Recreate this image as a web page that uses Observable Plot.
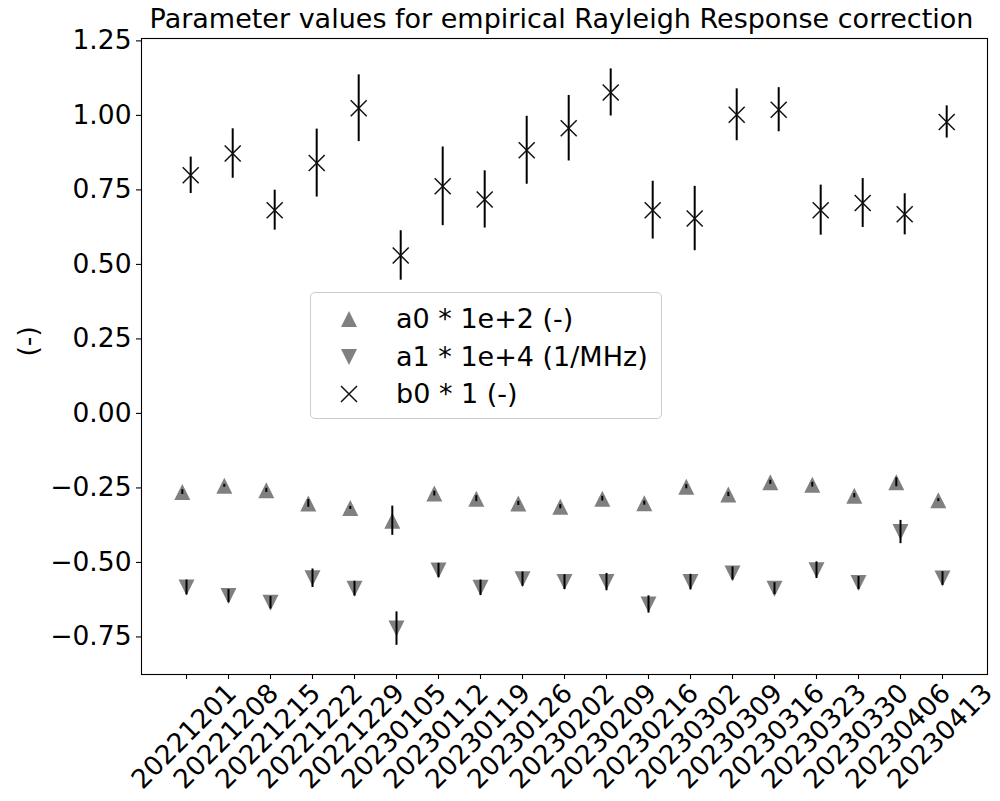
<!DOCTYPE html>
<html>
<head>
<meta charset="utf-8">
<script src="https://cdn.jsdelivr.net/npm/d3@7"></script>
<script src="https://cdn.jsdelivr.net/npm/@observablehq/plot@0.6"></script>
<style>
  html, body { margin: 0; padding: 0; background: white; }
  #chart { position: relative; width: 1000px; height: 801px; font-family: "DejaVu Sans", sans-serif; }
  #legend {
    position: absolute; left: 310px; top: 292px; width: 352px; height: 127px;
    border: 1px solid #cccccc; border-radius: 5px; background: rgba(255,255,255,0.8);
    box-sizing: border-box;
  }
  .row { position: absolute; left: 0; height: 30px; }
  .row svg { position: absolute; left: 28px; top: 5px; }
  .row span { position: absolute; left: 85px; white-space: nowrap; font-size: 27px; color: #000; line-height: 30px; top: 0; }
</style>
</head>
<body>
<div id="chart"></div>
<script>
// Weekly fit dates
const dates = ["20221201","20221208","20221215","20221222","20221229","20230105","20230112",
  "20230119","20230126","20230202","20230209","20230216","20230302","20230309","20230316",
  "20230323","20230330","20230406","20230413"];

// a0 scaled by 1e+2 (-)
const a0 = [-0.264,-0.243,-0.258,-0.302,-0.317,-0.360,-0.269,-0.286,-0.302,-0.313,
  -0.286,-0.301,-0.246,-0.272,-0.231,-0.239,-0.276,-0.231,-0.291];
const a0Err = [0.008,0.005,0.007,0.013,0.005,0.049,0.008,0.010,0.007,0.007,
  0.008,0.007,0.007,0.007,0.007,0.008,0.007,0.015,0.005];

// a1 scaled by 1e+4 (1/MHz)
const a1 = [-0.584,-0.613,-0.635,-0.553,-0.588,-0.722,-0.527,-0.585,-0.556,-0.566,
  -0.566,-0.641,-0.566,-0.537,-0.588,-0.526,-0.569,-0.398,-0.554];
const a1Err = [0.025,0.022,0.021,0.031,0.025,0.056,0.024,0.026,0.024,0.025,
  0.029,0.029,0.026,0.022,0.020,0.028,0.022,0.039,0.023];

// b0 scaled by 1 (-)
const b0 = [0.799,0.872,0.682,0.840,1.024,0.530,0.762,0.718,0.883,0.957,
  1.077,0.682,0.654,1.002,1.019,0.682,0.706,0.668,0.978];
const b0Err = [0.061,0.083,0.067,0.114,0.112,0.083,0.132,0.096,0.114,0.110,
  0.079,0.097,0.108,0.087,0.074,0.084,0.082,0.069,0.054];

const yTicks = [-0.75,-0.5,-0.25,0,0.25,0.5,0.75,1.0,1.25];
const title = "Parameter values for empirical Rayleigh Response correction";
const yLabel = "(-)";

const rows = (vals, errs) => dates.map((d, i) => ({date: d, v: vals[i], lo: vals[i] - errs[i], hi: vals[i] + errs[i]}));
const A0 = rows(a0, a0Err), A1 = rows(a1, a1Err), B0 = rows(b0, b0Err);

// Marker shapes: square-bounded triangles and an x cross
const rad = s => Math.sqrt(s / Math.PI);
const triUp = {draw(c, s) { const r = rad(s); c.moveTo(0, -r); c.lineTo(r, r); c.lineTo(-r, r); c.closePath(); }};
const triDown = {draw(c, s) { const r = rad(s); c.moveTo(0, r); c.lineTo(r, -r); c.lineTo(-r, -r); c.closePath(); }};
const cross = {draw(c, s) { const r = rad(s); c.moveTo(-r, -r); c.lineTo(r, r); c.moveTo(-r, r); c.lineTo(r, -r); }};

const shift = 4.2;
const fs = 26.5;

const chart = Plot.plot({
  width: 1000,
  height: 801,
  marginLeft: 141,
  marginRight: 13,
  marginTop: 38,
  marginBottom: 127,
  style: {fontFamily: "DejaVu Sans", fontSize: fs + "px", background: "white", color: "black"},
  x: {type: "point", domain: dates, padding: 1},
  y: {domain: [-0.876, 1.258]},
  marks: [
    Plot.frame({stroke: "black", strokeWidth: 1.1}),
    Plot.axisY({ticks: yTicks, tickFormat: d3.format(".2f"), tickSize: 5, tickPadding: 5, fontSize: fs, label: null, strokeWidth: 1.1}),
    Plot.axisX({tickSize: 5, fill: "none", label: null, strokeWidth: 1.1}),
    Plot.text(dates, {x: d => d, frameAnchor: "bottom", rotate: -45, textAnchor: "end", lineAnchor: "top", dx: 38, dy: 7, fontSize: fs, fill: "black"}),
    Plot.text([title], {frameAnchor: "top", dy: -19, dx: -3, lineAnchor: "middle", fontSize: 27, fill: "black"}),
    Plot.text([yLabel], {frameAnchor: "left", dx: -113, rotate: -90, lineAnchor: "middle", fontSize: fs, fill: "black"}),

    Plot.dot(A0, {x: "date", y: "v", symbol: triUp, r: 8, fill: "gray", stroke: "none", dx: -shift}),
    Plot.dot(A1, {x: "date", y: "v", symbol: triDown, r: 8, fill: "gray", stroke: "none"}),
    Plot.ruleX(A0, {x: "date", y1: "lo", y2: "hi", stroke: "black", strokeWidth: 2, dx: -shift}),
    Plot.ruleX(A1, {x: "date", y1: "lo", y2: "hi", stroke: "black", strokeWidth: 2}),
    Plot.ruleX(B0, {x: "date", y1: "lo", y2: "hi", stroke: "black", strokeWidth: 2, dx: shift}),
    Plot.dot(B0, {x: "date", y: "v", symbol: cross, r: 8, fill: "none", stroke: "#111", strokeWidth: 1.5, dx: shift})
  ]
});

const host = document.getElementById("chart");
host.appendChild(chart);

// Legend box
const legend = document.createElement("div");
legend.id = "legend";
const entries = [
  {label: "a0 * 1e+2 (-)", shape: '<polygon points="10,2 18,18 2,18" fill="gray"/>'},
  {label: "a1 * 1e+4 (1/MHz)", shape: '<polygon points="2,2 18,2 10,18" fill="gray"/>'},
  {label: "b0 * 1 (-)", shape: '<path d="M2,2L18,18M2,18L18,2" stroke="#111" stroke-width="1.5" fill="none"/>'}
];
const tops = [11, 49, 86];
entries.forEach((e, i) => {
  const r = document.createElement("div");
  r.className = "row";
  r.style.top = tops[i] + "px";
  r.innerHTML = `<svg width="20" height="20" viewBox="0 0 20 20">${e.shape}</svg><span>${e.label}</span>`;
  legend.appendChild(r);
});
host.appendChild(legend);
</script>
</body>
</html>
